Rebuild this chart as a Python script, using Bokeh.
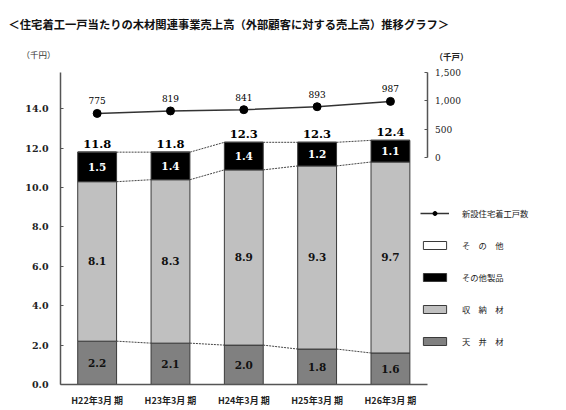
from bokeh.plotting import figure
from bokeh.models import (Range1d, LinearAxis, FixedTicker, NumeralTickFormatter,
                          Legend, LegendItem, Label, ColumnDataSource, LabelSet)
from bokeh.core.properties import value
from bokeh.embed import file_html
from bokeh.resources import INLINE

# ---- data ----
periods = ["H22年3月 期", "H23年3月 期", "H24年3月 期", "H25年3月 期", "H26年3月 期"]
ceiling = [2.2, 2.1, 2.0, 1.8, 1.6]            # 天井材
storage = [8.1, 8.3, 8.9, 9.3, 9.7]            # 収納材
other_products = [1.5, 1.4, 1.4, 1.2, 1.1]     # その他製品
others = [0.0, 0.0, 0.0, 0.0, 0.0]             # その他
totals = [11.8, 11.8, 12.3, 12.3, 12.4]
housing_starts = [775, 819, 841, 893, 987]     # 新設住宅着工戸数 (千戸)
left_ticks = [0, 2, 4, 6, 8, 10, 12, 14]
right_ticks = [0, 500, 1000, 1500]

series_names = ["天　井　材", "収　納　材", "その他製品", "そ　の　他"]
series_colors = ["#808080", "#c0c0c0", "#000000", "#ffffff"]

JP = "Noto Sans CJK JP"
NUM = "DejaVu Serif"
BAR_W = 0.53

xpos = [i + 0.5 for i in range(len(periods))]
lvl1 = ceiling
lvl2 = [a + b for a, b in zip(ceiling, storage)]
lvl3 = [a + b for a, b in zip(lvl2, other_products)]

src = ColumnDataSource(dict(
    x=xpos, ceiling=ceiling, storage=storage,
    other_products=other_products, others=others, totals=totals,
    houses=housing_starts,
    houses_txt=[f"{v:,}" for v in housing_starts],
    totals_txt=[f"{v:.1f}" for v in totals],
    c_mid=[v / 2 for v in ceiling], c_txt=[f"{v:.1f}" for v in ceiling],
    s_mid=[a + b / 2 for a, b in zip(lvl1, storage)], s_txt=[f"{v:.1f}" for v in storage],
    o_mid=[a + b / 2 for a, b in zip(lvl2, other_products)], o_txt=[f"{v:.1f}" for v in other_products],
))

# the frame covers the whole canvas; axes are pinned with fixed_location
p = figure(x_range=Range1d(-0.8183, 6.9012), y_range=Range1d(-1.3205, 19.502),
           width=566, height=410, output_backend="svg", toolbar_location=None,
           min_border=0)
p.outline_line_color = None
p.xgrid.grid_line_color = None
p.ygrid.grid_line_color = None
p.extra_y_ranges = {"houses": Range1d(-4449, 2761)}

# bars
bar_rs = p.vbar_stack(["ceiling", "storage", "other_products", "others"], x="x",
                      width=BAR_W, fill_color=series_colors, line_color="#3a3a3a",
                      line_width=1, source=src)

# dashed connectors between bars
conn = ColumnDataSource(dict(
    x0=[x + BAR_W / 2 for x in xpos[:-1]], x1=[x - BAR_W / 2 for x in xpos[1:]],
    y1=lvl1[:-1], y1b=lvl1[1:],
    y2=lvl2[:-1], y2b=lvl2[1:],
    y3=lvl3[:-1], y3b=lvl3[1:],
))
for ya, yb in [("y1", "y1b"), ("y2", "y2b"), ("y3", "y3b")]:
    p.segment(x0="x0", y0=ya, x1="x1", y1=yb, source=conn,
              line_color="#444444", line_width=1, line_dash="2 1")

# housing starts line
line_r = p.line(x="x", y="houses", y_range_name="houses", source=src,
                line_color="#333333", line_width=1.5)
pt_r = p.scatter(x="x", y="houses", y_range_name="houses", source=src,
                 size=8, fill_color="black", line_color="black")

# value labels
p.add_layout(LabelSet(x="x", y="houses", y_range_name="houses", text="houses_txt",
                      source=src, y_offset=9, text_align="center", text_baseline="bottom",
                      text_font=value(NUM), text_font_size="9px", text_color="black"))
p.add_layout(LabelSet(x="x", y="totals", text="totals_txt", source=src, y_offset=4,
                      text_align="center", text_baseline="bottom", text_font=value(NUM),
                      text_font_size="11.5px", text_font_style="bold", text_color="black"))
for ycol, tcol, col in [("c_mid", "c_txt", "#111111"), ("s_mid", "s_txt", "#111111"),
                        ("o_mid", "o_txt", "white")]:
    p.add_layout(LabelSet(x="x", y=ycol, text=tcol, source=src,
                          text_align="center", text_baseline="middle", text_font=value(NUM),
                          text_font_size="10.5px", text_font_style="bold", text_color=col))

# left axis
ax = p.yaxis[0]
ax.fixed_location = 0
ax.ticker = FixedTicker(ticks=left_ticks)
ax.formatter = NumeralTickFormatter(format="0.0")
ax.bounds = (0, 15.85)
ax.major_tick_in = 3
ax.major_tick_out = 0
ax.minor_tick_line_color = None
ax.major_label_standoff = 12
ax.major_label_text_font = NUM
ax.major_label_text_font_size = "9.5px"
ax.major_label_text_font_style = "bold"
ax.major_label_text_color = "#222222"
ax.axis_line_color = "#555555"
ax.axis_line_width = 1.5
ax.major_tick_line_color = "#555555"

# right axis (housing starts)
rax = LinearAxis(y_range_name="houses", ticker=FixedTicker(ticks=right_ticks),
                 formatter=NumeralTickFormatter(format="0,0"), fixed_location=5)
rax.bounds = (0, 1500)
rax.major_tick_in = 3
rax.major_tick_out = 0
rax.minor_tick_line_color = None
rax.major_label_standoff = 8
rax.major_label_text_font = NUM
rax.major_label_text_font_size = "9px"
rax.major_label_text_color = "#222222"
rax.axis_line_color = "#555555"
rax.axis_line_width = 1.5
rax.major_tick_line_color = "#555555"
p.add_layout(rax, "right")

# bottom axis
xa = p.xaxis[0]
xa.fixed_location = 0
xa.bounds = (0, 5)
xa.ticker = FixedTicker(ticks=xpos)
xa.major_label_overrides = {x: lab for x, lab in zip(xpos, periods)}
xa.major_tick_line_color = None
xa.minor_tick_line_color = None
xa.major_label_standoff = 4
xa.major_label_text_font = JP
xa.major_label_text_font_size = "9px"
xa.major_label_text_font_style = "bold"
xa.major_label_text_color = "#222222"
xa.axis_line_color = "#555555"
xa.axis_line_width = 1.5

# legend
items = [LegendItem(label="新設住宅着工戸数", renderers=[line_r, pt_r])]
for name, r in zip(series_names[::-1], bar_rs[::-1]):
    items.append(LegendItem(label=name, renderers=[r]))
leg = Legend(items=items, location=(420, 62), orientation="vertical",
             glyph_width=29, glyph_height=10, label_height=14, spacing=18,
             label_standoff=13, padding=0, margin=0, border_line_color=None,
             background_fill_alpha=0, label_text_font=JP, label_text_font_size="8.3px",
             label_text_color="#222222")
p.add_layout(leg, "center")

# title and unit labels (screen coords from the bottom-left of the canvas-sized frame)
p.add_layout(Label(x=8, y=387, x_units="screen", y_units="screen",
                   text="＜住宅着工一戸当たりの木材関連事業売上高（外部顧客に対する売上高）推移グラフ＞",
                   text_font=JP, text_font_size="11.3px", text_font_style="bold",
                   text_baseline="middle", text_align="left", text_color="#111111"))
p.add_layout(Label(x=38, y=357, x_units="screen", y_units="screen", text="（千円）",
                   text_font=JP, text_font_size="8.5px",
                   text_baseline="middle", text_align="center", text_color="#333333"))
p.add_layout(Label(x=451, y=355, x_units="screen", y_units="screen", text="（千戸）",
                   text_font=JP, text_font_size="8.5px", text_font_style="bold",
                   text_baseline="middle", text_align="center", text_color="#222222"))

open("out.html", "w").write(file_html(p, INLINE))
